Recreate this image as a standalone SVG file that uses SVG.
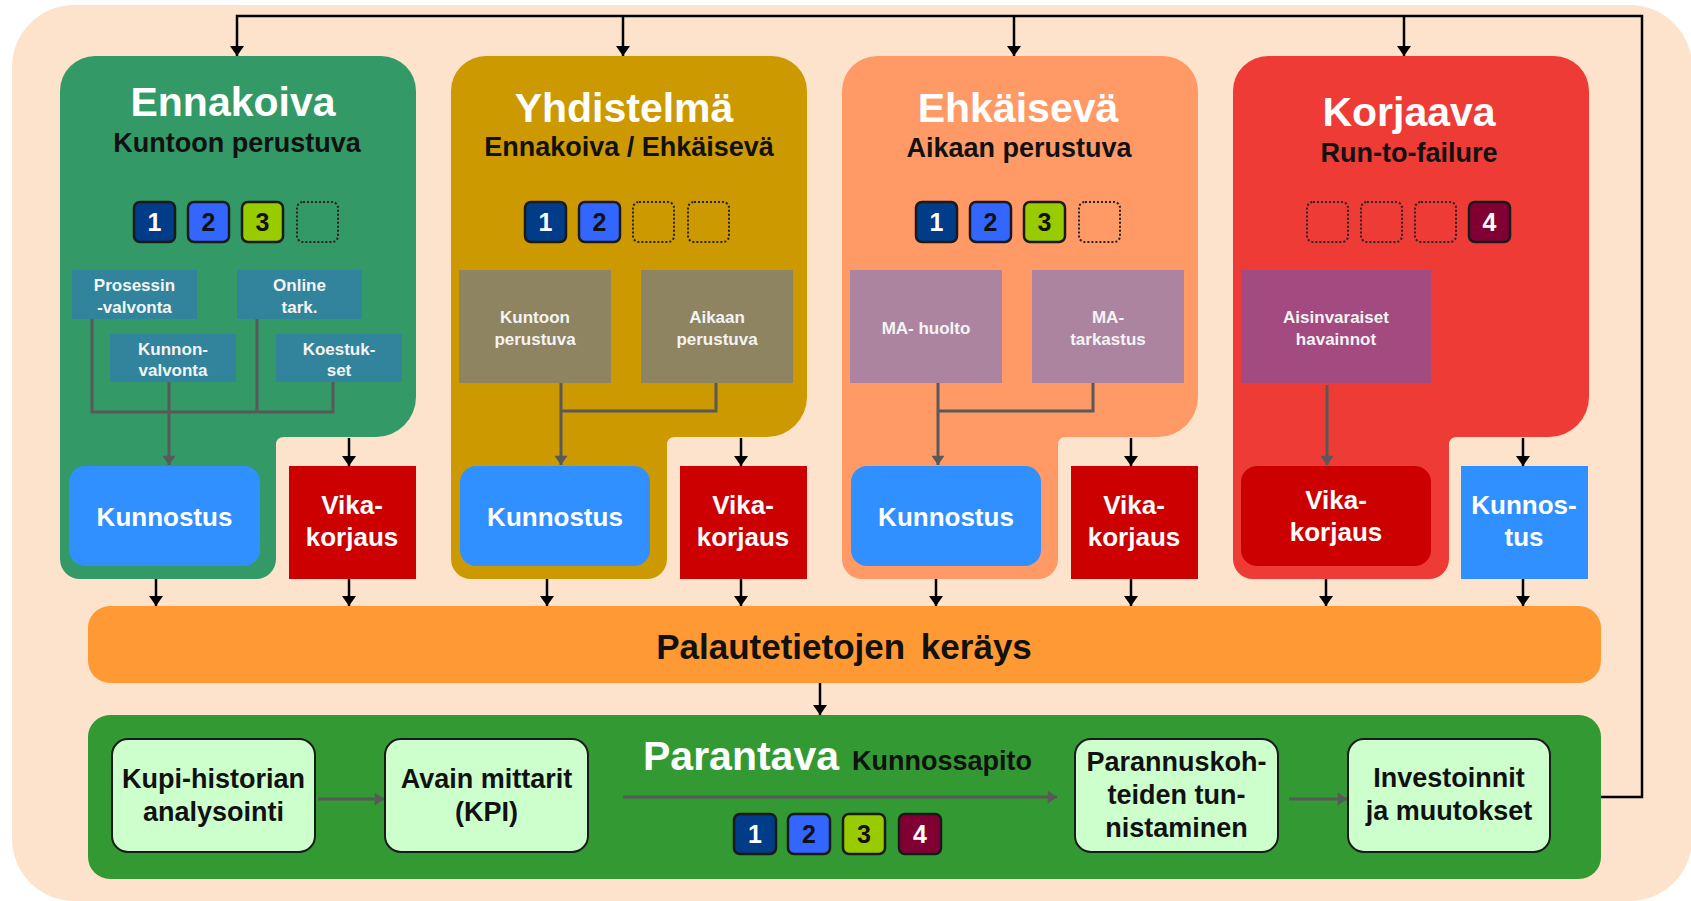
<svg xmlns="http://www.w3.org/2000/svg" xmlns:xlink="http://www.w3.org/1999/xlink" width="1691" height="901" viewBox="0 0 1691 901">
<style>
text{font-family:"Liberation Sans",Arial,sans-serif;font-weight:bold;text-anchor:middle}
.t1{font-size:41px;fill:#fff}
.t2{font-size:27px;fill:#111}
.sb{font-size:17px;fill:#f4f4f4}
.bx{font-size:26px;fill:#fff}
.num{font-size:25px}
.w{fill:#fff}.k{fill:#111}
.in{font-size:27px;fill:#111}
.sq{stroke:#1a1a1a;stroke-width:2.5}
.dot{fill:none;stroke:#222;stroke-width:2;stroke-dasharray:2 2}
.conn{stroke:#000;stroke-width:2.5;fill:none}
.gconn{stroke:#595959;stroke-width:3;fill:none}
.c1{fill:#003c88}.c2{fill:#3366ff}.c3{fill:#99cc00}.c4{fill:#800033}
</style>
<defs>
<path id="panel" d="M35,56 H321 A35,35 0 0 1 356,91 V397 A40,40 0 0 1 316,437 H224 Q216,437 216,445 V559 A20,20 0 0 1 196,579 H20 A20,20 0 0 1 0,559 V91 A35,35 0 0 1 35,56 Z"/>
<marker id="ah" viewBox="0 0 10 14" refX="10" refY="7" markerWidth="10" markerHeight="14" markerUnits="userSpaceOnUse" orient="auto"><path d="M0,0 L10,7 L0,14 Z" fill="#000"/></marker>
<marker id="ag" viewBox="0 0 10 14" refX="10" refY="7" markerWidth="10" markerHeight="13" markerUnits="userSpaceOnUse" orient="auto"><path d="M0,0 L10,7 L0,14 Z" fill="#595959"/></marker>
</defs>
<rect x="12" y="5" width="1680" height="896" rx="62" fill="#fde3cb"/>

<g id="ennakoiva">
<use xlink:href="#panel" x="60" fill="#339966"/>
<text class="t1" x="233" y="116">Ennakoiva</text>
<text class="t2" x="237" y="152">Kuntoon perustuva</text>
<rect class="sq c1" x="134" y="202" width="41" height="40" rx="6"/><text class="num w" x="154.5" y="231">1</text>
<rect class="sq c2" x="188" y="202" width="41" height="40" rx="6"/><text class="num k" x="208.5" y="231">2</text>
<rect class="sq c3" x="242" y="202" width="41" height="40" rx="6"/><text class="num k" x="262.5" y="231">3</text>
<rect class="dot" x="297" y="202" width="41" height="40" rx="6"/>
</g>
<g id="prosessin"><rect x="72" y="270" width="125" height="49" fill="#31849b"/><text class="sb" x="134.5" y="291">Prosessin</text><text class="sb" x="134.5" y="313">-valvonta</text></g>
<g id="online"><rect x="237" y="270" width="125" height="49" fill="#31849b"/><text class="sb" x="299.5" y="291">Online</text><text class="sb" x="299.5" y="313">tark.</text></g>
<g id="kunnonvalvonta"><rect x="110" y="334" width="126" height="48" fill="#31849b"/><text class="sb" x="173" y="355">Kunnon-</text><text class="sb" x="173" y="376">valvonta</text></g>
<g id="koestukset"><rect x="276" y="334" width="126" height="48" fill="#31849b"/><text class="sb" x="339" y="355">Koestuk-</text><text class="sb" x="339" y="376">set</text></g>
<g id="kunnostus1"><rect x="69" y="466" width="191" height="100" rx="16" fill="#3090ff"/><text class="bx" x="164.5" y="526">Kunnostus</text></g>
<g id="vika1"><rect x="289" y="466" width="127" height="113" fill="#cc0000"/><text class="bx" x="352" y="514">Vika-</text><text class="bx" x="352" y="546">korjaus</text></g>

<g id="yhdistelma">
<use xlink:href="#panel" x="451" fill="#cc9900"/>
<text class="t1" x="624" y="122">Yhdistelmä</text>
<text class="t2" x="629" y="156">Ennakoiva / Ehkäisevä</text>
<rect class="sq c1" x="525" y="202" width="41" height="40" rx="6"/><text class="num w" x="545.5" y="231">1</text>
<rect class="sq c2" x="579" y="202" width="41" height="40" rx="6"/><text class="num k" x="599.5" y="231">2</text>
<rect class="dot" x="633" y="202" width="41" height="40" rx="6"/>
<rect class="dot" x="688" y="202" width="41" height="40" rx="6"/>
</g>
<g id="kuntoon"><rect x="459" y="270" width="152" height="113" fill="#8e8462"/><text class="sb" x="535" y="323">Kuntoon</text><text class="sb" x="535" y="345">perustuva</text></g>
<g id="aikaan"><rect x="641" y="270" width="152" height="113" fill="#8e8462"/><text class="sb" x="717" y="323">Aikaan</text><text class="sb" x="717" y="345">perustuva</text></g>
<g id="kunnostus2"><rect x="460" y="466" width="190" height="100" rx="16" fill="#3090ff"/><text class="bx" x="555" y="526">Kunnostus</text></g>
<g id="vika2"><rect x="680" y="466" width="127" height="113" fill="#cc0000"/><text class="bx" x="743" y="514">Vika-</text><text class="bx" x="743" y="546">korjaus</text></g>

<g id="ehkaiseva">
<use xlink:href="#panel" x="842" fill="#ff9966"/>
<text class="t1" x="1018" y="122">Ehkäisevä</text>
<text class="t2" x="1019" y="157">Aikaan perustuva</text>
<rect class="sq c1" x="916" y="202" width="41" height="40" rx="6"/><text class="num w" x="936.5" y="231">1</text>
<rect class="sq c2" x="970" y="202" width="41" height="40" rx="6"/><text class="num k" x="990.5" y="231">2</text>
<rect class="sq c3" x="1024" y="202" width="41" height="40" rx="6"/><text class="num k" x="1044.5" y="231">3</text>
<rect class="dot" x="1079" y="202" width="41" height="40" rx="6"/>
</g>
<g id="mahuolto"><rect x="850" y="270" width="152" height="113" fill="#ad84a0"/><text class="sb" x="926" y="334">MA- huolto</text></g>
<g id="matarkastus"><rect x="1032" y="270" width="152" height="113" fill="#ad84a0"/><text class="sb" x="1108" y="323">MA-</text><text class="sb" x="1108" y="345">tarkastus</text></g>
<g id="kunnostus3"><rect x="851" y="466" width="190" height="100" rx="16" fill="#3090ff"/><text class="bx" x="946" y="526">Kunnostus</text></g>
<g id="vika3"><rect x="1071" y="466" width="127" height="113" fill="#cc0000"/><text class="bx" x="1134" y="514">Vika-</text><text class="bx" x="1134" y="546">korjaus</text></g>

<g id="korjaava">
<use xlink:href="#panel" x="1233" fill="#ee3b36"/>
<text class="t1" x="1409" y="126">Korjaava</text>
<text class="t2" x="1409" y="162">Run-to-failure</text>
<rect class="dot" x="1307" y="202" width="41" height="40" rx="6"/>
<rect class="dot" x="1361" y="202" width="41" height="40" rx="6"/>
<rect class="dot" x="1415" y="202" width="41" height="40" rx="6"/>
<rect class="sq c4" x="1469" y="202" width="41" height="40" rx="6"/><text class="num w" x="1489.5" y="231">4</text>
</g>
<g id="aisinvaraiset"><rect x="1241" y="270" width="190" height="113" fill="#a34a80"/><text class="sb" x="1336" y="323">Aisinvaraiset</text><text class="sb" x="1336" y="345">havainnot</text></g>
<g id="vika4"><rect x="1241" y="466" width="190" height="100" rx="16" fill="#cc0000"/><text class="bx" x="1336" y="509">Vika-</text><text class="bx" x="1336" y="541">korjaus</text></g>
<g id="kunnostus4"><rect x="1461" y="466" width="127" height="113" fill="#3090ff"/><text class="bx" x="1524" y="514">Kunnos-</text><text class="bx" x="1524" y="546">tus</text></g>

<g id="palaute"><rect x="88" y="606" width="1513" height="77" rx="22" fill="#ff9933"/><text x="844" y="659" style="font-size:35px;fill:#111;word-spacing:6px">Palautetietojen keräys</text></g>

<g id="parantava">
<rect x="88" y="715" width="1513" height="164" rx="22" fill="#339933"/>
<text x="643" y="770" style="font-size:41px;fill:#fff;text-anchor:start">Parantava</text>
<text x="852" y="770" style="font-size:27px;fill:#111;text-anchor:start">Kunnossapito</text>
<rect class="sq c1" x="734" y="814" width="42" height="40" rx="6"/><text class="num w" x="755" y="843">1</text>
<rect class="sq c2" x="788" y="814" width="42" height="40" rx="6"/><text class="num k" x="809" y="843">2</text>
<rect class="sq c3" x="843" y="814" width="42" height="40" rx="6"/><text class="num k" x="864" y="843">3</text>
<rect class="sq c4" x="899" y="814" width="42" height="40" rx="6"/><text class="num w" x="920" y="843">4</text>
</g>
<g id="kupi"><rect x="112" y="739" width="203" height="113" rx="16" fill="#ccffcc" stroke="#1a1a1a" stroke-width="2"/><text class="in" x="213.5" y="788">Kupi-historian</text><text class="in" x="213.5" y="821">analysointi</text></g>
<g id="avain"><rect x="385" y="739" width="203" height="113" rx="16" fill="#ccffcc" stroke="#1a1a1a" stroke-width="2"/><text class="in" x="486.5" y="788">Avain mittarit</text><text class="in" x="486.5" y="821">(KPI)</text></g>
<g id="parannus"><rect x="1075" y="739" width="203" height="113" rx="16" fill="#ccffcc" stroke="#1a1a1a" stroke-width="2"/><text class="in" x="1176.5" y="771">Parannuskoh-</text><text class="in" x="1176.5" y="804">teiden tun-</text><text class="in" x="1176.5" y="837">nistaminen</text></g>
<g id="investoinnit"><rect x="1348" y="739" width="202" height="113" rx="16" fill="#ccffcc" stroke="#1a1a1a" stroke-width="2"/><text class="in" x="1449" y="787">Investoinnit</text><text class="in" x="1449" y="820">ja muutokset</text></g>

<g id="connectors">
<path class="conn" d="M1601,797 H1642 V16 H237 V56" marker-end="url(#ah)"/>
<path class="conn" d="M623,16 V56" marker-end="url(#ah)"/>
<path class="conn" d="M1014,16 V56" marker-end="url(#ah)"/>
<path class="conn" d="M1404,16 V56" marker-end="url(#ah)"/>
<path class="gconn" d="M92,319 V412 H333 V382"/>
<path class="gconn" d="M257,319 V412"/>
<path class="gconn" d="M169,382 V465" marker-end="url(#ag)"/>
<path class="gconn" d="M716,383 V411 H561"/>
<path class="gconn" d="M561,383 V465" marker-end="url(#ag)"/>
<path class="gconn" d="M1093,383 V411 H938"/>
<path class="gconn" d="M938,383 V465" marker-end="url(#ag)"/>
<path class="gconn" d="M1327,385 V465" marker-end="url(#ag)"/>
<path class="conn" d="M349,438 V466" marker-end="url(#ah)"/>
<path class="conn" d="M741,438 V466" marker-end="url(#ah)"/>
<path class="conn" d="M1131,438 V466" marker-end="url(#ah)"/>
<path class="conn" d="M1523,438 V466" marker-end="url(#ah)"/>
<path class="conn" d="M156,579 V606" marker-end="url(#ah)"/>
<path class="conn" d="M349,579 V606" marker-end="url(#ah)"/>
<path class="conn" d="M547,579 V606" marker-end="url(#ah)"/>
<path class="conn" d="M741,579 V606" marker-end="url(#ah)"/>
<path class="conn" d="M936,579 V606" marker-end="url(#ah)"/>
<path class="conn" d="M1131,579 V606" marker-end="url(#ah)"/>
<path class="conn" d="M1326,579 V606" marker-end="url(#ah)"/>
<path class="conn" d="M1523,579 V606" marker-end="url(#ah)"/>
<path class="conn" d="M820,683 V715" marker-end="url(#ah)"/>
<path class="gconn" d="M318,799 H384" marker-end="url(#ag)"/>
<path class="gconn" d="M623,797 H1057" marker-end="url(#ag)"/>
<path class="gconn" d="M1289,799 H1347" marker-end="url(#ag)"/>
</g>
</svg>
